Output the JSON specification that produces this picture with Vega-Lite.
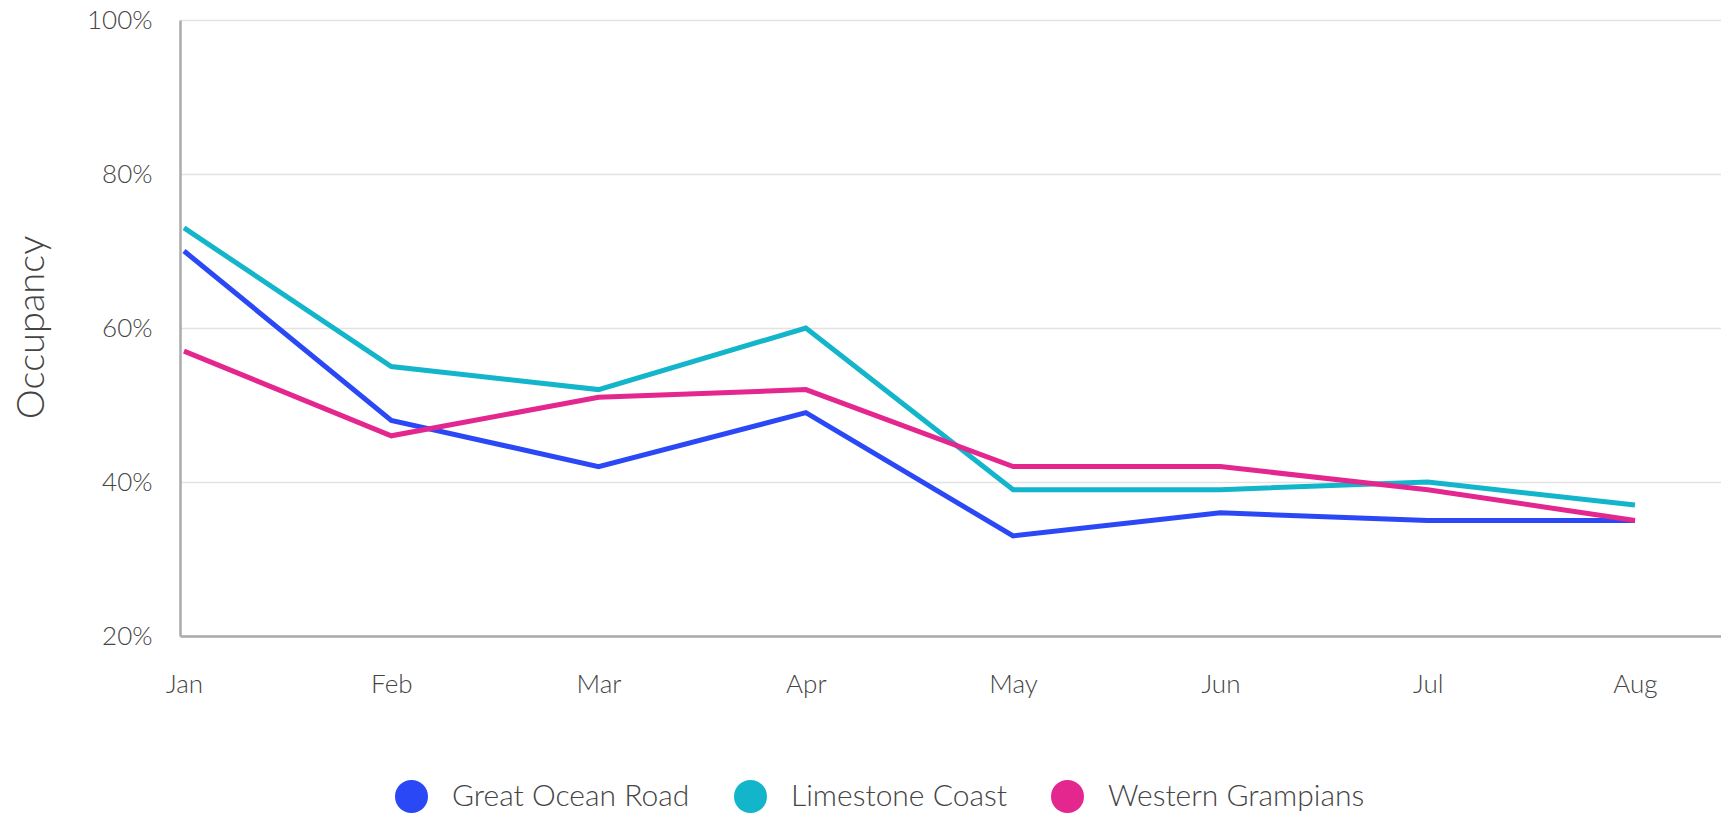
{
  "$schema": "https://vega.github.io/schema/vega-lite/v6.json",
  "width": 1541,
  "height": 616,
  "autosize": {"type": "none"},
  "padding": {"left": 180, "top": 20, "right": 0, "bottom": 180},
  "background": "white",
  "config": {
    "view": {"stroke": null},
    "font": "Lato",
    "axis": {
      "labelFont": "Lato", "labelFontWeight": 300, "labelFontSize": 26, "labelColor": "#444444",
      "titleFont": "Lato", "titleFontWeight": 300, "titleColor": "#444444",
      "gridColor": "#e3e3e3", "gridWidth": 1.5, "domainColor": "#aaaaaa", "domainWidth": 2.5, "ticks": false
    },
    "legend": {
      "labelFont": "Lato", "labelFontWeight": 300, "labelFontSize": 30, "labelColor": "#444444"
    }
  },
  "data": {
    "values": [
      {"month": "Jan", "monthNum": 1, "region": "Great Ocean Road", "occupancy": 0.70},
      {"month": "Feb", "monthNum": 2, "region": "Great Ocean Road", "occupancy": 0.48},
      {"month": "Mar", "monthNum": 3, "region": "Great Ocean Road", "occupancy": 0.42},
      {"month": "Apr", "monthNum": 4, "region": "Great Ocean Road", "occupancy": 0.49},
      {"month": "May", "monthNum": 5, "region": "Great Ocean Road", "occupancy": 0.33},
      {"month": "Jun", "monthNum": 6, "region": "Great Ocean Road", "occupancy": 0.36},
      {"month": "Jul", "monthNum": 7, "region": "Great Ocean Road", "occupancy": 0.35},
      {"month": "Aug", "monthNum": 8, "region": "Great Ocean Road", "occupancy": 0.35},
      {"month": "Jan", "monthNum": 1, "region": "Limestone Coast", "occupancy": 0.73},
      {"month": "Feb", "monthNum": 2, "region": "Limestone Coast", "occupancy": 0.55},
      {"month": "Mar", "monthNum": 3, "region": "Limestone Coast", "occupancy": 0.52},
      {"month": "Apr", "monthNum": 4, "region": "Limestone Coast", "occupancy": 0.60},
      {"month": "May", "monthNum": 5, "region": "Limestone Coast", "occupancy": 0.39},
      {"month": "Jun", "monthNum": 6, "region": "Limestone Coast", "occupancy": 0.39},
      {"month": "Jul", "monthNum": 7, "region": "Limestone Coast", "occupancy": 0.40},
      {"month": "Aug", "monthNum": 8, "region": "Limestone Coast", "occupancy": 0.37},
      {"month": "Jan", "monthNum": 1, "region": "Western Grampians", "occupancy": 0.57},
      {"month": "Feb", "monthNum": 2, "region": "Western Grampians", "occupancy": 0.46},
      {"month": "Mar", "monthNum": 3, "region": "Western Grampians", "occupancy": 0.51},
      {"month": "Apr", "monthNum": 4, "region": "Western Grampians", "occupancy": 0.52},
      {"month": "May", "monthNum": 5, "region": "Western Grampians", "occupancy": 0.42},
      {"month": "Jun", "monthNum": 6, "region": "Western Grampians", "occupancy": 0.42},
      {"month": "Jul", "monthNum": 7, "region": "Western Grampians", "occupancy": 0.39},
      {"month": "Aug", "monthNum": 8, "region": "Western Grampians", "occupancy": 0.35}
    ]
  },
  "mark": {"type": "line", "strokeWidth": 5, "strokeJoin": "miter", "strokeCap": "butt"},
  "encoding": {
    "x": {
      "field": "monthNum", "type": "quantitative",
      "scale": {"domain": [0.9807, 8.415], "nice": false, "zero": false},
      "axis": {
        "title": null, "labelAngle": 0, "labelPadding": 35, "grid": false,
        "values": [1, 2, 3, 4, 5, 6, 7, 8],
        "labelExpr": "['Jan','Feb','Mar','Apr','May','Jun','Jul','Aug'][datum.value - 1]"
      }
    },
    "y": {
      "field": "occupancy", "type": "quantitative",
      "scale": {"domain": [0.2, 1.0], "nice": false, "zero": false},
      "axis": {
        "title": "Occupancy", "titleFontSize": 38, "format": ".0%", "values": [0.2, 0.4, 0.6, 0.8, 1.0],
        "labelPadding": 28, "titleX": -148, "titleY": 307, "titleAlign": "center", "titleBaseline": "middle", "titleAngle": -90
      }
    },
    "color": {
      "field": "region", "type": "nominal",
      "scale": {"domain": ["Great Ocean Road", "Limestone Coast", "Western Grampians"], "range": ["#2a48f6", "#13b5cb", "#e4268f"]},
      "legend": {
        "title": null, "orient": "none", "direction": "horizontal", "legendX": 215, "legendY": 760,
        "symbolType": "circle", "symbolSize": 272, "symbolStrokeWidth": 16.5, "labelOffset": 24, "columnPadding": 19, "gridAlign": "none", "labelLimit": 0
      }
    }
  }
}
